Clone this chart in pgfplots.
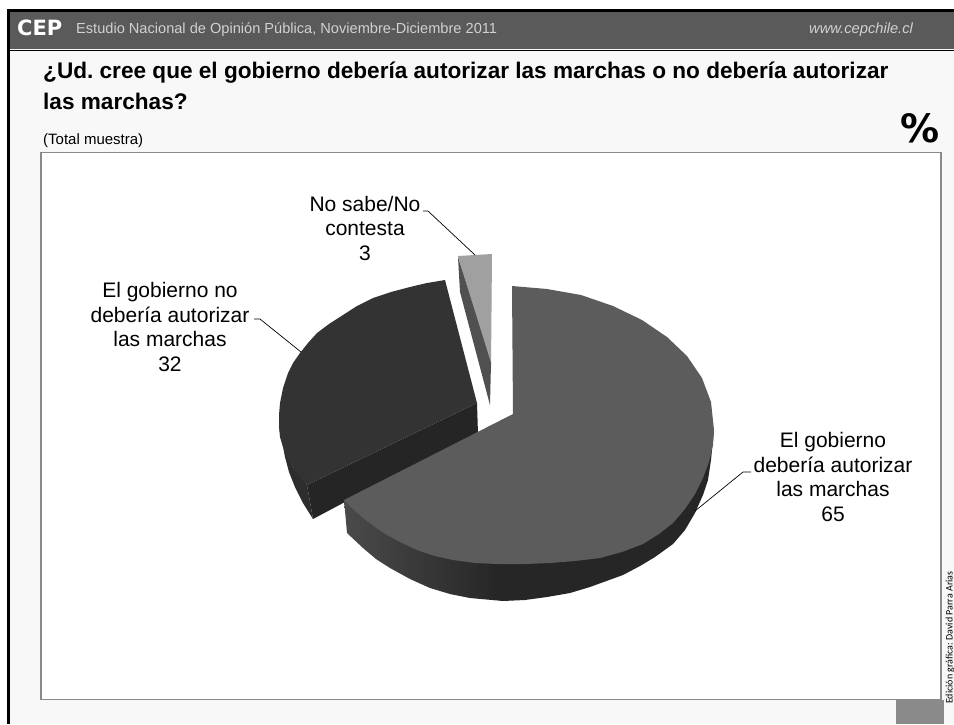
\documentclass[border=0pt]{standalone}
\usepackage{pgfplots}
\pgfplotsset{compat=1.18}
\usepackage{fontspec}
\setmainfont{Liberation Sans}
\newfontfamily\cepfont{DejaVu Sans}
\newfontfamily\sidefont{Carlito}
\frenchspacing
\definecolor{hdr}{HTML}{5A5A5A}
\definecolor{bgpage}{HTML}{F8F8F8}
\definecolor{frameline}{HTML}{8A8A8A}
\definecolor{mainslice}{HTML}{5C5C5C}
\definecolor{darktop}{HTML}{333333}
\definecolor{darkface}{HTML}{252525}
\definecolor{darkouter}{HTML}{2D2D2D}
\definecolor{lighttop}{HTML}{A0A0A0}
\definecolor{lightface}{HTML}{505050}
\definecolor{sideA}{HTML}{4A4A4A}
\definecolor{sideB}{HTML}{262626}
\pgfdeclarehorizontalshading{mainside}{100bp}{color(0bp)=(sideA); color(25bp)=(sideA); color(46bp)=(sideB); color(100bp)=(sideB)}
\begin{document}
\begin{tikzpicture}
\begin{axis}[
    scale only axis,
    width=954pt,
    height=724pt,
    xmin=0, xmax=954,
    ymin=0, ymax=724,
    y dir=reverse,
    axis lines=none,
    every axis plot/.append style={mark=none},
]
% page furniture
\addplot[fill=white,draw=none] coordinates {(0,0) (954,0) (954,724) (0,724)} --cycle;
\addplot[fill=bgpage,draw=none] coordinates {(7,9) (954,9) (954,724) (7,724)} --cycle;
\addplot[fill=hdr,draw=none] coordinates {(9,11) (954,11) (954,49) (9,49)} --cycle;
\addplot[black,line width=3pt] coordinates {(8.5,724) (8.5,10.5) (954,10.5)};
\addplot[black,line width=1.2pt] coordinates {(10,50.5) (954,50.5)};
\addplot[fill=white,draw=frameline,line width=1.2pt] coordinates {(41,152.5) (941,152.5) (941,699.5) (41,699.5)} --cycle;
\addplot[fill=frameline,draw=none] coordinates {(896,700) (944,700) (944,724) (896,724)} --cycle;

% slice 32: outer wall, cut face, top
\addplot[fill=darkouter,draw=none] coordinates {(279,427) (283,447) (293,467) (307,485) (313,519) (303,503) (295,487) (289,472) (285,457) (282,442)} --cycle;
\addplot[fill=darkface,draw=none] coordinates {(307,485) (477,403) (478,434) (345,502) (313,519)} --cycle;
\addplot[fill=darktop,draw=none] coordinates {(445,280) (427,283) (410,287) (391,292) (373,298) (357,306) (343,315) (329,324) (317,333) (308,343) (300,353) (293,363) (288,373) (283,388) (280,403) (279,415) (279,427) (280,437) (283,447) (287,457) (293,467) (299,476) (307,485) (477,403)} --cycle;

% slice 3
\addplot[fill=lighttop,draw=none] coordinates {(458,256) (492,254) (491,368)} --cycle;
\addplot[fill=lightface,draw=none] coordinates {(458,257) (460,292) (490,405) (491,363)} --cycle;

% slice 65: wall, top
\addplot[shading=mainside,draw=none] coordinates {(344,500) (347,533) (363,548) (376,559) (390,568) (410,579) (430,588) (450,594) (470,598) (503,601) (525,600) (547,597) (570,593) (590,587) (623,575) (640,566) (655,557) (673,544) (685,530) (695,513) (703,495) (708,480) (711,460) (714,430)} --cycle;
\addplot[fill=mainslice,draw=none] coordinates {(513,414) (512,286) (547,289) (581,295) (613,306) (642,320) (667,337) (687,356) (702,378) (711,402) (714,430) (713,445) (709,462) (703,478) (695,494) (685,509) (673,523) (659,534) (643,544) (622,552) (600,558) (575,561) (550,563) (525,564) (497,564) (475,563) (453,560) (435,556) (417,550) (402,543) (387,535) (375,527) (363,518) (353,509) (344,500)} --cycle;

% leader lines
\addplot[black,line width=0.7pt] coordinates {(423,211) (428,211) (475,255)};
\addplot[black,line width=0.7pt] coordinates {(254,319) (260,319) (301,352)};
\addplot[black,line width=0.7pt] coordinates {(751,472) (743,472) (695,511)};

% header and titles
\node[anchor=west,inner sep=0pt,text=white,font=\cepfont\bfseries\fontsize{21}{21}\selectfont] at (axis cs:17,28) {CEP};
\node[anchor=west,inner sep=0pt,text=black!18,font=\fontsize{14.6}{14.6}\selectfont] at (axis cs:76,30) {Estudio Nacional de Opinión Pública, Noviembre-Diciembre 2011};
\node[anchor=west,inner sep=0pt,text=black!18,font=\itshape\fontsize{14.7}{14.7}\selectfont] at (axis cs:809,30) {www.cepchile.cl};
\node[anchor=west,inner sep=0pt,font=\bfseries\fontsize{22.6}{22.6}\selectfont] at (axis cs:43,73) {¿Ud. cree que el gobierno debería autorizar las marchas o no debería autorizar};
\node[anchor=west,inner sep=0pt,font=\bfseries\fontsize{22.6}{22.6}\selectfont] at (axis cs:43,101) {las marchas?};
\node[anchor=west,inner sep=0pt,font=\fontsize{15}{15}\selectfont] at (axis cs:43,141) {(Total muestra)};
\node[anchor=east,inner sep=0pt,font=\cepfont\bfseries\fontsize{39}{39}\selectfont] at (axis cs:940,128) {\%};
\node[anchor=west,inner sep=0pt,rotate=90,font=\sidefont\fontsize{10}{10}\selectfont] at (axis cs:950,704) {Edición gráfica: David Parra Arias};

% slice labels
\node[align=center,inner sep=0pt,font=\fontsize{21}{24.5}\selectfont] at (axis cs:365,228) {No sabe/No\\contesta\\3};
\node[align=center,inner sep=0pt,font=\fontsize{21}{24.5}\selectfont] at (axis cs:170,327) {El gobierno no\\debería autorizar\\las marchas\\32};
\node[align=center,inner sep=0pt,font=\fontsize{21}{24.5}\selectfont] at (axis cs:833,477) {El gobierno\\debería autorizar\\las marchas\\65};
\end{axis}
\end{tikzpicture}
\end{document}
